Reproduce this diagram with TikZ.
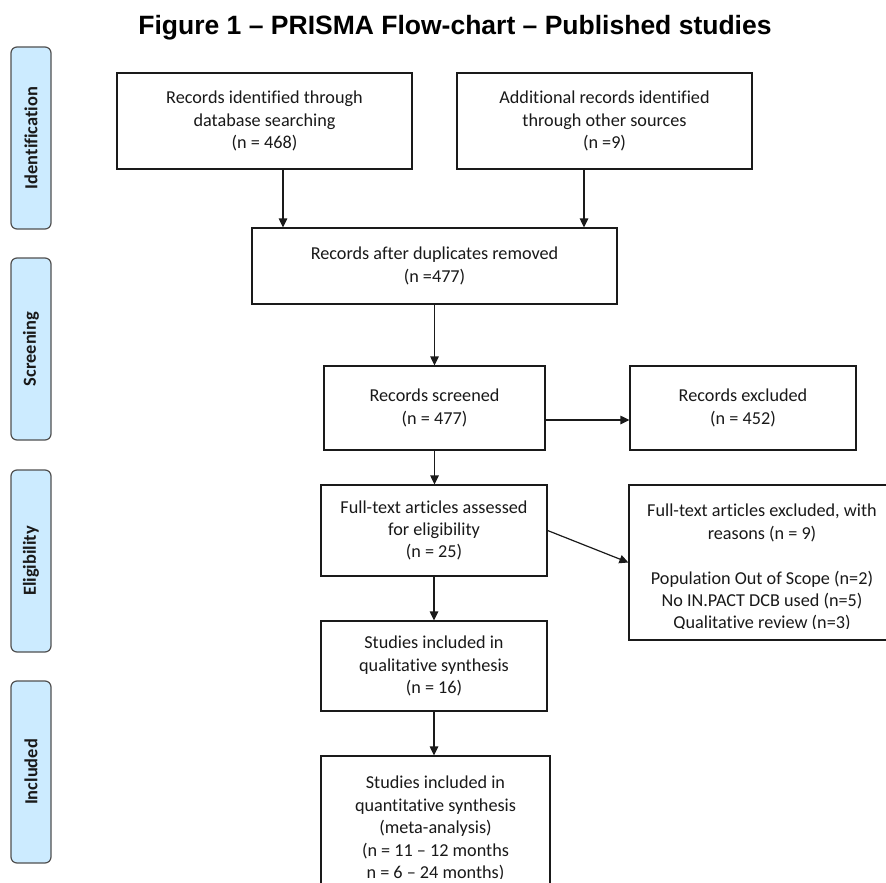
\documentclass[tikz,border=0pt]{standalone}
\usepackage{fontspec}
\setmainfont[Ligatures={NoCommon}]{Carlito}
\newfontfamily\titlefont{Liberation Sans}
\usetikzlibrary{arrows.meta,calc}

\definecolor{phasefill}{HTML}{CCEBFF}
\definecolor{phaseline}{HTML}{505050}
\definecolor{boxline}{HTML}{1A1A1A}

\tikzset{
  bodytext/.style={font=\fontsize{18.2}{22.4}\selectfont, align=center, text=black!90},
  flowbox/.style={draw=boxline, line width=1.2pt, inner sep=0pt, bodytext},
  phasebar/.style={draw=phaseline, fill=phasefill, line width=1.2pt, rounded corners=6pt,
    rotate=90, minimum width=182pt, minimum height=40pt, inner sep=0pt,
    font=\fontsize{18.4}{22}\selectfont\bfseries, text=black!90},
  flowarrow/.style={draw=boxline, line width=1.2pt, -{Triangle[length=9pt,width=8.5pt]}},
}

\begin{document}
\begin{tikzpicture}[x=1pt, y=-1pt]
  \clip (0,0) rectangle (886,883);
  \fill[white] (0,0) rectangle (886,883);

  % heading
  \node[anchor=base, font=\titlefont\fontsize{26.5}{30}\selectfont\bfseries] (title) at (455,35)
    {Figure 1 – PRISMA Flow-chart – Published studies};

  % phase labels along the left edge
  \node[phasebar] (pId)  at (31,138) {Identification};
  \node[phasebar] (pScr) at (31,349) {Screening};
  \node[phasebar] (pEl)  at (31,561) {Eligibility};
  \node[phasebar] (pInc) at (31,772) {Included};

  % identification
  \node[flowbox, minimum width=295pt, minimum height=96pt] (db) at (264.5,121)
    {Records identified through\\database searching\\(n = 468)};
  \node[flowbox, minimum width=295pt, minimum height=96pt] (other) at (604.5,121)
    {Additional records identified\\through other sources\\(n =9)};

  % screening
  \node[flowbox, minimum width=365pt, minimum height=76pt] (dedup) at (434.5,266)
    {Records after duplicates removed\\(n =477)};
  \node[flowbox, minimum width=221pt, minimum height=84pt] (screened) at (434.5,408)
    {Records screened\\(n = 477)};
  \node[flowbox, minimum width=226pt, minimum height=84pt] (excl) at (743,408)
    {Records excluded\\(n = 452)};

  % eligibility
  \node[flowbox, minimum width=226pt, minimum height=91pt] (fulltext) at (434,530.5)
    {Full-text articles assessed\\for eligibility\\(n = 25)};
  \node[flowbox, minimum width=266pt, minimum height=155pt] (ftexcl) at (762,562.5) {};
  \begin{scope}
    \clip (629,485) rectangle (895,628);
    \node[bodytext, anchor=north, inner sep=0pt] (ftexclText) at (762,504)
      {Full-text articles excluded, with\\reasons (n = 9)\\\mbox{}\\Population Out of Scope (n=2)\\No IN.PACT DCB used (n=5)\\Qualitative review (n=3)};
  \end{scope}

  % included
  \node[flowbox, minimum width=226pt, minimum height=90pt] (qual) at (434,666)
    {Studies included in\\qualitative synthesis\\(n = 16)};
  \node[flowbox, minimum width=229pt, minimum height=144pt] (quant) at (435.5,828) {};
  \begin{scope}
    \clip (321,756) rectangle (550,878);
    \node[bodytext, anchor=north, inner sep=0pt] (quantText) at (435.5,776)
      {Studies included in\\quantitative synthesis\\(meta-analysis)\\(n = 11 – 12 months\\n = 6 – 24 months)};
  \end{scope}

  % connectors
  \draw[flowarrow] ([xshift=18.5pt]db.south) -- ([xshift=18.5pt]db.south |- dedup.north);
  \draw[flowarrow] ([xshift=-20.5pt]other.south) -- ([xshift=-20.5pt]other.south |- dedup.north);
  \draw[flowarrow] (dedup.south) -- (dedup.south |- screened.north);
  \draw[flowarrow] ([yshift=-12pt]screened.east) -- ([yshift=-12pt]screened.east -| excl.west);
  \draw[flowarrow] (screened.south) -- (screened.south |- fulltext.north);
  \draw[flowarrow] (fulltext.east) -- (ftexcl.west);
  \draw[flowarrow] (fulltext.south) -- (fulltext.south |- qual.north);
  \draw[flowarrow] (qual.south) -- (qual.south |- quant.north);
\end{tikzpicture}
\end{document}
